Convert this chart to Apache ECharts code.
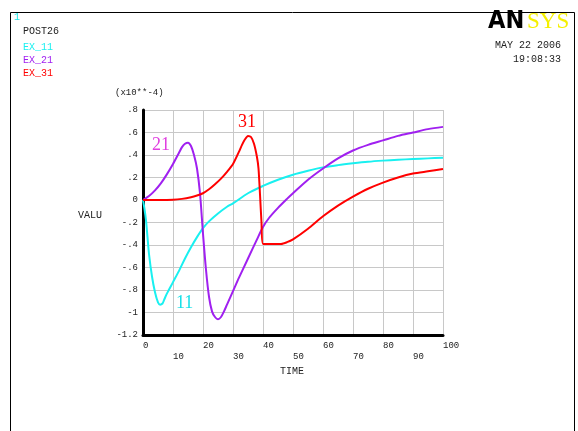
<!DOCTYPE html>
<html>
<head>
<meta charset="utf-8">
<script src="https://cdn.jsdelivr.net/npm/echarts@6/dist/echarts.min.js"></script>
<style>html,body{margin:0;padding:0;background:#fff;}#c{width:578px;height:431px;}</style>
</head>
<body>
<div id="c"></div>
<script>
// ---- data ----
var xTickLabels = ['0','10','20','30','40','50','60','70','80','90','100'];
var yTickLabels = ['-1.2','-1','-.8','-.6','-.4','-.2','0','.2','.4','.6','.8'];
var legendNames = ['EX_11','EX_21','EX_31'];

var t11 = [0,0.5,1,1.5,2,3,4,5,5.7,6.5,7,8,10,12,14,16,18,20,22,25,28,30,35,40,45,50,55,60,65,70,75,80,85,90,95,100];
var v11 = [0,-0.08,-0.18,-0.33,-0.48,-0.68,-0.82,-0.91,-0.93,-0.92,-0.89,-0.83,-0.73,-0.63,-0.52,-0.42,-0.33,-0.25,-0.19,-0.12,-0.06,-0.03,0.06,0.125,0.18,0.225,0.26,0.29,0.31,0.326,0.34,0.35,0.358,0.364,0.37,0.376];

var t21 = [0,2,4,6,8,10,12,13,14,15,16,17,18,19,20,21,22,23,24,25,26,27,28,30,32,35,38,40,42,45,48,50,55,60,65,70,75,80,85,90,95,100];
var v21 = [0,0.035,0.085,0.15,0.23,0.32,0.42,0.47,0.50,0.51,0.48,0.40,0.28,0.06,-0.30,-0.62,-0.86,-0.99,-1.04,-1.06,-1.04,-0.99,-0.93,-0.81,-0.69,-0.52,-0.35,-0.24,-0.16,-0.07,0.01,0.06,0.18,0.28,0.37,0.44,0.49,0.53,0.57,0.60,0.63,0.65];

var t31 = [0,5,10,13,16,18,20,22,24,26,28,30,32,33,34,35,36,37,38,38.5,39,39.5,40,42,45,46,48,50,55,60,65,70,75,80,85,90,95,100];
var v31 = [0,0,0.002,0.01,0.025,0.04,0.06,0.095,0.14,0.19,0.25,0.32,0.43,0.49,0.54,0.57,0.56,0.50,0.38,0.28,0.05,-0.2,-0.39,-0.39,-0.39,-0.39,-0.375,-0.35,-0.255,-0.145,-0.05,0.03,0.10,0.155,0.20,0.235,0.255,0.275];

var xMin = 0, xMax = 100, xStep = 10;
var yMin = -1.2, yMax = 0.8, yStep = 0.2;

function pairs(t, v) { return t.map(function (x, i) { return [x, v[i]]; }); }

var C11 = '#19f0f0', C21 = '#a020f0', C31 = '#ff0000';
var mono = "'Liberation Mono', 'DejaVu Sans Mono', monospace";
var serif = "'Liberation Serif', 'DejaVu Serif', serif";

var chart = echarts.init(document.getElementById('c'), null, {renderer: 'canvas'});
chart.setOption({
  animation: false,
  backgroundColor: '#ffffff',
  grid: {left: 143, top: 110, width: 300, height: 225, containLabel: false},
  xAxis: {
    type: 'value', min: xMin, max: xMax, interval: xStep,
    axisLine: {show: true, onZero: false, lineStyle: {color: '#000', width: 3}},
    axisTick: {show: false},
    splitLine: {show: true, lineStyle: {color: '#c8c8c8', width: 1}},
    axisLabel: {
      show: true, margin: 5, align: 'left', fontFamily: mono, fontSize: 9, color: '#222', lineHeight: 11,
      showMinLabel: true, showMaxLabel: true,
      formatter: function (v) {
        var i = Math.round((v - xMin) / xStep);
        var s = xTickLabels[i] || '';
        return (i % 2 === 1) ? '\n' + s : s;
      }
    }
  },
  yAxis: {
    type: 'value', min: yMin, max: yMax, interval: yStep,
    axisLine: {show: true, onZero: false, lineStyle: {color: '#000', width: 3}},
    axisTick: {show: false},
    splitLine: {show: true, lineStyle: {color: '#c8c8c8', width: 1}},
    axisLabel: {
      show: true, margin: 5, fontFamily: mono, fontSize: 9, color: '#222',
      showMinLabel: true, showMaxLabel: true,
      formatter: function (v) {
        var i = Math.round((v - yMin) / yStep);
        return yTickLabels[i] || '';
      }
    }
  },
  series: [
    {name: legendNames[0], type: 'line', data: pairs(t11, v11), showSymbol: false, smooth: 0.3,
     lineStyle: {color: C11, width: 2}, itemStyle: {color: C11}, z: 3},
    {name: legendNames[1], type: 'line', data: pairs(t21, v21), showSymbol: false, smooth: 0.3,
     lineStyle: {color: C21, width: 2}, itemStyle: {color: C21}, z: 4},
    {name: legendNames[2], type: 'line', data: pairs(t31, v31), showSymbol: false, smooth: 0.25,
     lineStyle: {color: C31, width: 2}, itemStyle: {color: C31}, z: 5}
  ],
  graphic: [
    {type: 'rect', shape: {x: 10.5, y: 12.5, width: 564, height: 440}, style: {fill: 'none', stroke: '#000', lineWidth: 1}, silent: true},
    {type: 'text', left: 14, top: 12, style: {text: '1', fill: '#19e8e8', font: '10px ' + mono}},
    {type: 'text', left: 23, top: 26, style: {text: 'POST26', fill: '#222', font: '10px ' + mono}},
    {type: 'text', left: 23, top: 42, style: {text: legendNames[0], fill: C11, font: '10px ' + mono}},
    {type: 'text', left: 23, top: 55, style: {text: legendNames[1], fill: C21, font: '10px ' + mono}},
    {type: 'text', left: 23, top: 68, style: {text: legendNames[2], fill: C31, font: '10px ' + mono}},
    {type: 'text', left: 488, top: 9, style: {text: 'AN', fill: '#000', font: 'bold 25px "DejaVu Sans Condensed", "DejaVu Sans", sans-serif'}},
    {type: 'text', left: 527, top: 10, style: {text: 'SYS', fill: '#f5f000', font: '23px ' + serif}},
    {type: 'text', right: 17, top: 40, style: {text: 'MAY 22 2006', fill: '#222', font: '10px ' + mono, align: 'right'}},
    {type: 'text', right: 17, top: 54, style: {text: '19:08:33', fill: '#222', font: '10px ' + mono, align: 'right'}},
    {type: 'text', left: 115, top: 88, style: {text: '(x10**-4)', fill: '#222', font: '9px ' + mono}},
    {type: 'text', left: 78, top: 210, style: {text: 'VALU', fill: '#222', font: '10px ' + mono}},
    {type: 'text', left: 280, top: 366, style: {text: 'TIME', fill: '#222', font: '10px ' + mono}},
    {type: 'text', left: 152, top: 136, style: {text: '21', fill: '#e040e0', font: '18px ' + serif}},
    {type: 'text', left: 238, top: 113, style: {text: '31', fill: C31, font: '18px ' + serif}},
    {type: 'text', left: 176, top: 294, style: {text: '11', fill: '#19e0e8', font: '18px ' + serif}}
  ]
});
</script>
</body>
</html>
